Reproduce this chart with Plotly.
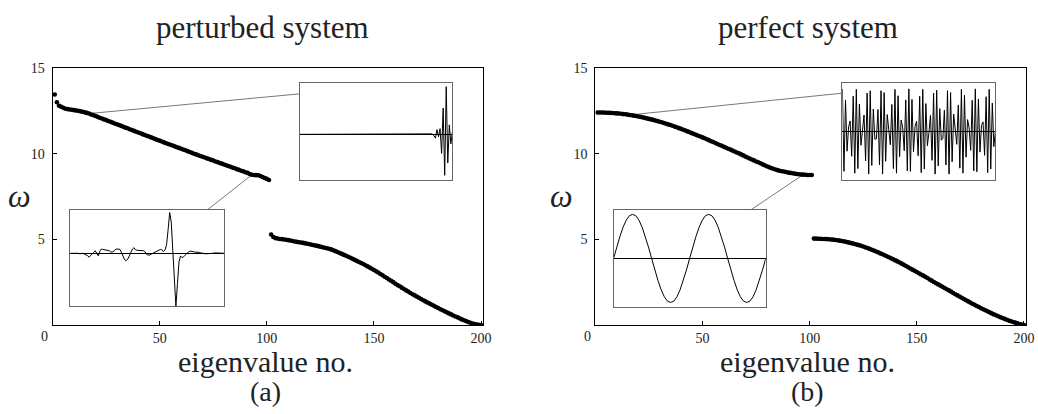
import plotly.graph_objects as go

W, H = 1038, 414

# ---------------- eigenfrequencies ----------------
# perturbed system
pert_upper_no = list(range(1, 102))
pert_upper_w = [
    13.45, 13.00, 12.80, 12.74, 12.68, 12.62, 12.60, 12.58, 12.56, 12.54,
    12.52, 12.50, 12.47, 12.45, 12.41, 12.38, 12.34, 12.29, 12.25, 12.20,
    12.15, 12.10, 12.05, 12.00, 11.96, 11.91, 11.86, 11.81, 11.76, 11.72,
    11.67, 11.62, 11.57, 11.52, 11.48, 11.43, 11.38, 11.33, 11.28, 11.24,
    11.19, 11.14, 11.09, 11.04, 11.00, 10.95, 10.90, 10.85, 10.80, 10.76,
    10.71, 10.66, 10.61, 10.57, 10.52, 10.48, 10.43, 10.38, 10.34, 10.29,
    10.24, 10.20, 10.15, 10.10, 10.05, 10.00, 9.96, 9.91, 9.87, 9.82,
    9.78, 9.73, 9.69, 9.64, 9.60, 9.55, 9.51, 9.46, 9.42, 9.37,
    9.33, 9.28, 9.24, 9.19, 9.15, 9.10, 9.06, 9.01, 8.97, 8.92,
    8.88, 8.82, 8.77, 8.76, 8.75, 8.74, 8.70, 8.64, 8.58, 8.53,
    8.47,
]
pert_lower_no = list(range(102, 201))
pert_lower_w = [
    5.29, 5.14, 5.08, 5.06, 5.03, 5.02, 5.00, 4.98, 4.96, 4.94,
    4.91, 4.88, 4.86, 4.84, 4.82, 4.80, 4.77, 4.75, 4.72, 4.69,
    4.66, 4.64, 4.61, 4.58, 4.55, 4.52, 4.49, 4.46, 4.42, 4.37,
    4.32, 4.27, 4.21, 4.16, 4.10, 4.05, 3.99, 3.93, 3.87, 3.81,
    3.75, 3.69, 3.63, 3.57, 3.50, 3.43, 3.36, 3.29, 3.22, 3.14,
    3.07, 2.99, 2.91, 2.83, 2.75, 2.67, 2.59, 2.51, 2.42, 2.34,
    2.27, 2.19, 2.11, 2.03, 1.96, 1.88, 1.81, 1.74, 1.67, 1.60,
    1.53, 1.46, 1.39, 1.32, 1.26, 1.19, 1.13, 1.06, 1.00, 0.93,
    0.87, 0.81, 0.75, 0.69, 0.63, 0.57, 0.51, 0.46, 0.40, 0.34,
    0.29, 0.24, 0.19, 0.14, 0.10, 0.07, 0.04, 0.02, 0.01,
]

# perfect system
perf_upper_no = list(range(1, 102))
perf_upper_w = [
    12.40, 12.40, 12.40, 12.40, 12.39, 12.39, 12.38, 12.37, 12.36, 12.35,
    12.34, 12.33, 12.31, 12.30, 12.28, 12.26, 12.24, 12.22, 12.20, 12.17,
    12.15, 12.12, 12.09, 12.06, 12.03, 12.00, 11.97, 11.93, 11.90, 11.86,
    11.83, 11.79, 11.75, 11.71, 11.67, 11.63, 11.58, 11.54, 11.49, 11.45,
    11.40, 11.35, 11.30, 11.25, 11.20, 11.15, 11.10, 11.05, 11.00, 10.95,
    10.90, 10.84, 10.79, 10.73, 10.68, 10.62, 10.57, 10.51, 10.46, 10.40,
    10.35, 10.29, 10.24, 10.18, 10.13, 10.07, 10.02, 9.96, 9.90, 9.83,
    9.78, 9.72, 9.66, 9.61, 9.55, 9.50, 9.44, 9.38, 9.33, 9.27,
    9.22, 9.17, 9.12, 9.08, 9.04, 9.01, 8.98, 8.96, 8.93, 8.90,
    8.88, 8.86, 8.84, 8.82, 8.80, 8.79, 8.78, 8.77, 8.76, 8.76,
    8.76,
]
perf_lower_no = list(range(102, 201))
perf_lower_w = [
    5.05, 5.05, 5.04, 5.04, 5.03, 5.03, 5.02, 5.01, 5.00, 4.99,
    4.97, 4.95, 4.93, 4.91, 4.89, 4.86, 4.83, 4.80, 4.77, 4.74,
    4.70, 4.67, 4.63, 4.59, 4.54, 4.50, 4.45, 4.40, 4.35, 4.30,
    4.25, 4.19, 4.14, 4.08, 4.02, 3.96, 3.90, 3.84, 3.78, 3.72,
    3.66, 3.59, 3.52, 3.45, 3.38, 3.31, 3.24, 3.17, 3.10, 3.03,
    2.96, 2.89, 2.82, 2.75, 2.67, 2.60, 2.52, 2.45, 2.38, 2.31,
    2.24, 2.17, 2.10, 2.03, 1.96, 1.88, 1.81, 1.74, 1.67, 1.60,
    1.53, 1.46, 1.39, 1.32, 1.25, 1.19, 1.12, 1.06, 0.99, 0.93,
    0.87, 0.81, 0.75, 0.69, 0.63, 0.58, 0.52, 0.47, 0.42, 0.37,
    0.32, 0.27, 0.23, 0.19, 0.15, 0.11, 0.07, 0.04, 0.01,
]

# ---------------- mode shapes shown in the insets ----------------
site_no = list(range(1, 101))

# perturbed, high-frequency mode localized at the chain end
pert_mode_hi = [
    0.0, 0.0, 0.0, 0.0, 0.0, 0.0, 0.0, 0.0, 0.0, 0.0,
    0.0, 0.0, 0.0, 0.0, 0.0, 0.0, 0.0, 0.0, 0.0, 0.0,
    0.0, 0.0, 0.0, 0.0, 0.0, 0.0, 0.0, 0.0, 0.0, 0.0,
    0.0, 0.0, 0.0, 0.0, 0.0, 0.0, 0.0, 0.0, 0.0, 0.0,
    0.0, 0.0, 0.0, 0.0, 0.0, 0.0, 0.0, 0.0, 0.0, 0.0,
    0.0, 0.0, 0.0, 0.0, 0.0, 0.0, 0.0, 0.0, 0.0, 0.0,
    0.0, 0.0, 0.0, 0.0, 0.0, 0.0, 0.0, 0.0, 0.0, 0.0,
    0.0, 0.0, 0.0, 0.0, 0.0, 0.0, 0.0, 0.0, 0.0, 0.0,
    0.0, 0.0, 0.0, 0.0, 0.0, 0.0, 0.01, -0.03, -0.08, 0.10,
    -0.05, 0.12, -0.40, 0.55, -0.86, 1.00, -0.60, 0.20, -0.20, 0.05,
]

# perturbed, mode localized at the defect
pert_mode_lo = [
    0.0, 0.0, 0.01, 0.0, 0.0, 0.0, -0.01, 0.0, 0.0, -0.02,
    -0.03, -0.05, -0.09, -0.06, -0.03, 0.02, 0.06, 0.0, -0.06, 0.05,
    0.10, 0.09, 0.08, 0.07, 0.07, 0.06, 0.03, 0.03, 0.05, 0.09,
    0.10, 0.09, 0.09, 0.01, -0.09, -0.15, -0.17, -0.13, -0.06, 0.03,
    0.10, 0.13, 0.08, 0.07, 0.07, 0.07, 0.06, 0.06, 0.04, -0.02,
    -0.04, -0.04, -0.02, 0.0, 0.02, 0.04, 0.05, 0.07, 0.09, 0.08,
    0.04, 0.08, 0.20, 0.55, 0.94, 0.72, 0.10, -0.55, -1.22, -0.70,
    -0.20, -0.06, -0.10, -0.08, -0.04, 0.0, 0.03, 0.05, 0.05, 0.04,
    0.03, 0.03, 0.02, 0.02, 0.01, 0.0, 0.0, -0.01, -0.01, -0.01,
    0.0, 0.0, 0.0, 0.01, 0.01, 0.01, 0.01, 0.0, 0.0, 0.0,
]

# perfect, extended high-frequency mode
perf_mode_hi = [
    0.93, -0.87, 0.69, -0.43, 0.10, 0.23, -0.54, 0.77, -0.91, 0.92,
    -0.81, 0.60, -0.30, -0.03, 0.36, -0.64, 0.84, -0.93, 0.89, -0.74,
    0.49, -0.17, -0.16, 0.48, -0.73, 0.89, -0.93, 0.85, -0.65, 0.37,
    -0.04, -0.29, 0.59, -0.81, 0.92, -0.91, 0.78, -0.55, 0.25, 0.09,
    -0.42, 0.69, -0.86, 0.93, -0.87, 0.70, -0.44, 0.11, 0.22, -0.53,
    0.77, -0.90, 0.92, -0.82, 0.61, -0.31, -0.02, 0.35, -0.63, 0.84,
    -0.93, 0.90, -0.75, 0.50, -0.19, -0.15, 0.47, -0.73, 0.89, -0.93,
    0.85, -0.66, 0.38, -0.05, -0.28, 0.58, -0.80, 0.92, -0.91, 0.79,
    -0.56, 0.26, 0.08, -0.41, 0.68, -0.86, 0.93, -0.88, 0.71, -0.45,
    0.13, 0.21, -0.52, 0.76, -0.90, 0.92, -0.82, 0.62, -0.33, 0.01,
]

# perfect, long-wavelength mode
sine_site_no = list(range(0, 49))
perf_mode_lo = [
    0.0, 0.26, 0.50, 0.71, 0.87, 0.97, 1.0, 0.97, 0.87, 0.71,
    0.50, 0.26, 0.0, -0.26, -0.50, -0.71, -0.87, -0.97, -1.0, -0.97,
    -0.87, -0.71, -0.50, -0.26, 0.0, 0.26, 0.50, 0.71, 0.87, 0.97,
    1.0, 0.97, 0.87, 0.71, 0.50, 0.26, 0.0, -0.26, -0.50, -0.71,
    -0.87, -0.97, -1.0, -0.97, -0.87, -0.71, -0.50, -0.26, 0.0,
]

x_ticks = [50, 100, 150, 200]
y_ticks = [5, 10, 15]

# ---------------- layout geometry ----------------
X_RANGE = [0, 201]
Y_RANGE = [0, 15]
PANEL_X = {"L": (53, 487), "R": (600, 1034)}   # pixel extents of the frames
PANEL_Y = (62, 323.7)
SERIF = "Liberation Serif"


def px_to_paper_x(px):
    return px / W


def px_to_paper_y(py):
    return 1 - py / H


def data_to_paper(panel, xv, yv):
    x0, x1 = PANEL_X[panel]
    y0, y1 = PANEL_Y
    px = x0 + (xv - X_RANGE[0]) / (X_RANGE[1] - X_RANGE[0]) * (x1 - x0)
    py = y1 - (yv - Y_RANGE[0]) / (Y_RANGE[1] - Y_RANGE[0]) * (y1 - y0)
    return px_to_paper_x(px), px_to_paper_y(py)


# inset boxes in units of the host panel: (x_min, x_max, y_min, y_max)
insets = {
    "L_hi": ("L", (115.4, 186.6, 8.49, 14.10), site_no, pert_mode_hi, [1, 100], [-0.95, 1.07]),
    "L_lo": ("L", (8.3, 80.0, 1.11, 6.72), site_no, pert_mode_lo, [1, 100], [-1.22, 1.0]),
    "R_hi": ("R", (115.3, 186.7, 8.49, 14.10), site_no, perf_mode_hi, [1, 100], [-1.05, 1.05]),
    "R_lo": ("R", (8.5, 79.5, 1.07, 6.72), sine_site_no, perf_mode_lo, [0, 48], [-1.1, 1.1]),
}

fig = go.Figure()

dot = dict(size=4.6, color="black")
fig.add_trace(go.Scatter(x=pert_upper_no, y=pert_upper_w, mode="markers", marker=dot, xaxis="x", yaxis="y"))
fig.add_trace(go.Scatter(x=pert_lower_no, y=pert_lower_w, mode="markers", marker=dot, xaxis="x", yaxis="y"))
fig.add_trace(go.Scatter(x=perf_upper_no, y=perf_upper_w, mode="markers", marker=dot, xaxis="x2", yaxis="y2"))
fig.add_trace(go.Scatter(x=perf_lower_no, y=perf_lower_w, mode="markers", marker=dot, xaxis="x2", yaxis="y2"))

main_x = dict(range=X_RANGE, showgrid=False, zeroline=False, showline=True, mirror=True,
              linecolor="black", linewidth=1, ticks="inside", ticklen=4, tickwidth=1,
              tickcolor="black", tickvals=x_ticks, ticktext=[str(v) for v in x_ticks],
              tickfont=dict(family=SERIF, size=14, color="#222"), ticklabelstandoff=0)
main_y = dict(range=Y_RANGE, showgrid=False, zeroline=False, showline=True, mirror=True,
              linecolor="black", linewidth=1, ticks="inside", ticklen=4, tickwidth=1,
              tickcolor="black", tickvals=y_ticks, ticktext=[str(v) for v in y_ticks],
              tickfont=dict(family=SERIF, size=14, color="#222"), ticklabelstandoff=4)

layout = dict(
    width=W, height=H, margin=dict(l=0, r=0, t=0, b=0),
    paper_bgcolor="white", plot_bgcolor="white", showlegend=False,
    xaxis=dict(main_x, domain=[px_to_paper_x(PANEL_X["L"][0]), px_to_paper_x(PANEL_X["L"][1])], anchor="y"),
    yaxis=dict(main_y, domain=[px_to_paper_y(PANEL_Y[1]), px_to_paper_y(PANEL_Y[0])], anchor="x"),
    xaxis2=dict(main_x, domain=[px_to_paper_x(PANEL_X["R"][0]), px_to_paper_x(PANEL_X["R"][1])], anchor="y2"),
    yaxis2=dict(main_y, domain=[px_to_paper_y(PANEL_Y[1]), px_to_paper_y(PANEL_Y[0])], anchor="x2"),
)

shapes = []
for k, (name, (panel, box, xs, ys, xr, yr)) in enumerate(insets.items()):
    ax_id = k + 3
    xa, ya = f"x{ax_id}", f"y{ax_id}"
    px0, py0 = data_to_paper(panel, box[0], box[2])
    px1, py1 = data_to_paper(panel, box[1], box[3])
    layout[f"xaxis{ax_id}"] = dict(domain=[px0, px1], range=xr, anchor=ya, showgrid=False,
                                   zeroline=False, showticklabels=False, ticks="",
                                   showline=True, mirror=True, linecolor="#666", linewidth=1)
    layout[f"yaxis{ax_id}"] = dict(domain=[py0, py1], range=yr, anchor=xa, showgrid=False,
                                   zeroline=True, zerolinecolor="black", zerolinewidth=1,
                                   showticklabels=False, ticks="",
                                   showline=True, mirror=True, linecolor="#666", linewidth=1)
    fig.add_trace(go.Scatter(x=xs, y=ys, mode="lines", line=dict(color="black", width=1),
                             xaxis=xa, yaxis=ya, cliponaxis=True))

# leader lines from the selected eigenvalue to its inset
leaders = [
    ("x", "y", pert_upper_no[16], pert_upper_w[16], 115.4, 13.49),
    ("x", "y", pert_upper_no[92], pert_upper_w[92], 72.2, 6.72),
    ("x2", "y2", perf_upper_no[15], perf_upper_w[15], 115.3, 13.53),
    ("x2", "y2", perf_upper_no[96], perf_upper_w[96], 72.5, 6.72),
]
for xr_, yr_, xa_, ya_, xb_, yb_ in leaders:
    shapes.append(dict(type="line", xref=xr_, yref=yr_, x0=xa_, y0=ya_, x1=xb_, y1=yb_,
                       line=dict(color="#555", width=0.8), layer="below"))
layout["shapes"] = shapes

ann = []


def text(x_px, y_px, s, size, italic=False):
    ann.append(dict(x=px_to_paper_x(x_px), y=px_to_paper_y(y_px), xref="paper", yref="paper",
                    text=f"<i>{s}</i>" if italic else s, showarrow=False,
                    xanchor="center", yanchor="middle",
                    font=dict(family=SERIF, size=size, color="#222")))


text(265, 21, "perturbed system", 31)
text(814, 21, "perfect system", 31)
text(268, 361, "eigenvalue no.", 30)
text(814, 361, "eigenvalue no.", 30)
text(268, 391, "(a)", 28)
text(814, 391, "(b)", 28)
text(20, 192, "ω", 32, italic=True)
text(566, 192, "ω", 32, italic=True)
text(45, 335, "0", 14)
text(592, 335, "0", 14)
layout["annotations"] = ann

fig.update_layout(**layout)
fig.write_html("out.html")
